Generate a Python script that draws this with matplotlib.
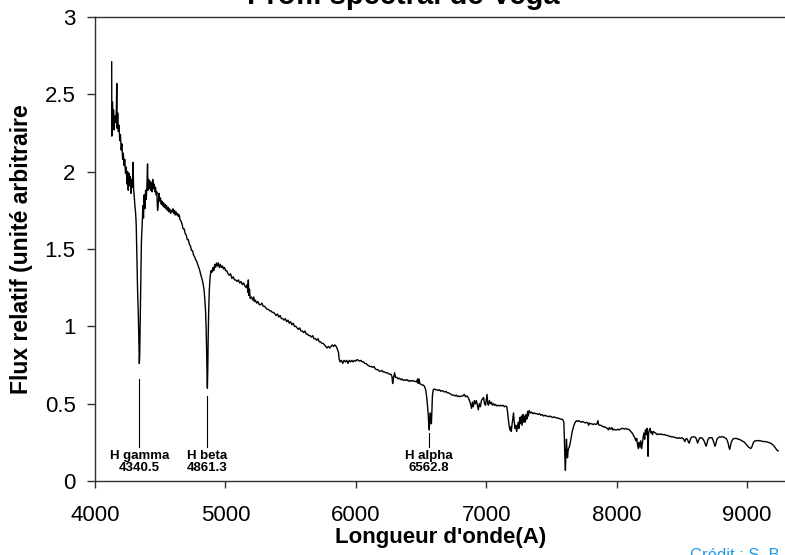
import matplotlib
matplotlib.use("Agg")
import matplotlib.pyplot as plt
from matplotlib.ticker import FuncFormatter

plt.rcParams['font.family'] = ['Liberation Sans', 'DejaVu Sans']

# ---- data ----
wavelength = [
    4128, 4129, 4134, 4138, 4142, 4147, 4152, 4158, 4164, 4167, 4170, 4174, 4179, 4184, 4190, 4195,
    4201, 4206, 4212, 4217, 4223, 4228, 4234, 4240, 4245, 4250, 4255, 4260, 4265, 4270, 4276, 4281,
    4286, 4292, 4296, 4301, 4306, 4311, 4316, 4321, 4327, 4333, 4337, 4340, 4343, 4347, 4351, 4356,
    4362, 4367, 4372, 4377, 4382, 4388, 4393, 4398, 4403, 4406, 4411, 4416, 4421, 4427, 4432, 4437,
    4443, 4448, 4453, 4459, 4464, 4470, 4474, 4480, 4486, 4491, 4496, 4502, 4508, 4513, 4519, 4525,
    4531, 4537, 4543, 4549, 4555, 4561, 4567, 4573, 4580, 4586, 4592, 4598, 4604, 4610, 4616, 4622,
    4628, 4634, 4640, 4646, 4652, 4660, 4668, 4676, 4684, 4692, 4700, 4708, 4716, 4724, 4732, 4740,
    4748, 4756, 4764, 4772, 4780, 4788, 4796, 4804, 4812, 4820, 4828, 4836, 4842, 4848, 4852, 4856,
    4859, 4862, 4865, 4868, 4872, 4877, 4883, 4890, 4897, 4904, 4911, 4918, 4925, 4932, 4940, 4947,
    4954, 4962, 4970, 4978, 4986, 4994, 5002, 5010, 5020,
    5030, 5040, 5050, 5060, 5070, 5080, 5090, 5100, 5110, 5120, 5130, 5140, 5150, 5160, 5168, 5172,
    5176, 5180, 5185, 5190, 5200, 5210, 5218, 5222, 5230, 5240, 5250, 5260, 5270, 5280, 5290, 5300,
    5310, 5320, 5330, 5340, 5350, 5360, 5370, 5380, 5390, 5400, 5410, 5420, 5430, 5440, 5450, 5460,
    5470, 5480, 5490, 5500, 5510, 5520, 5530, 5540, 5550, 5560, 5570, 5580, 5590, 5600, 5610, 5620,
    5630, 5640, 5650, 5660, 5670, 5680, 5690, 5700, 5710, 5720, 5730, 5740, 5750, 5760, 5770, 5780,
    5790, 5800, 5810, 5820, 5830, 5840, 5850, 5860, 5868, 5872, 5880, 5890, 5900, 5910, 5920, 5930,
    5940, 5950, 5960, 5970,
    5980, 5990, 6000, 6010, 6020, 6030, 6040, 6050, 6060, 6070, 6080, 6090, 6100, 6110, 6120, 6130,
    6140, 6150, 6160, 6170, 6180, 6190, 6200, 6210, 6220, 6230, 6240, 6250, 6260, 6270, 6278, 6283,
    6288, 6298, 6305, 6315, 6325, 6335, 6345, 6355, 6365, 6375, 6385, 6395, 6405, 6415, 6425, 6435,
    6445, 6455, 6465, 6475, 6480, 6485, 6492, 6500, 6510, 6520, 6528, 6536, 6543, 6550, 6556, 6560,
    6564, 6568, 6572, 6576, 6580, 6584, 6588, 6594, 6602, 6612, 6622, 6632, 6642, 6652, 6662, 6672,
    6682, 6692, 6702, 6712, 6722, 6732, 6742, 6752, 6762, 6772, 6782, 6792, 6802, 6812, 6822, 6832,
    6842, 6852, 6862, 6872, 6880, 6888, 6895, 6902, 6910, 6918, 6925, 6933, 6940, 6948, 6956, 6964,
    6972, 6980, 6988, 6995, 7002, 7007, 7012, 7018, 7025, 7032, 7040, 7048, 7056, 7064, 7072, 7080,
    7090, 7100,
    7110, 7120, 7130, 7140, 7150, 7158, 7164, 7170, 7176, 7182, 7188, 7193, 7198, 7204, 7210, 7216,
    7222, 7228, 7234, 7240, 7246, 7252, 7258, 7264, 7270, 7276, 7282, 7288, 7294, 7300, 7306, 7312,
    7318, 7324, 7330, 7340, 7350, 7360, 7370, 7380, 7390, 7400, 7410, 7420, 7430, 7440, 7450, 7460,
    7470, 7480, 7490, 7500, 7510, 7520, 7530, 7540, 7550, 7560, 7570, 7580, 7590, 7596, 7600, 7604,
    7608, 7612, 7616, 7620, 7624, 7628, 7632, 7638, 7645, 7652, 7658, 7665, 7672, 7680, 7688, 7696,
    7704, 7712, 7720, 7730, 7740, 7750, 7760, 7770, 7780, 7786, 7792, 7800, 7810, 7820, 7830, 7840,
    7850, 7858, 7862, 7870, 7880, 7890, 7900, 7910, 7920, 7930, 7938, 7945, 7950, 7958, 7965, 7972,
    7980, 7990, 8000, 8010, 8020, 8030, 8040, 8050, 8060, 8070, 8080, 8090, 8100, 8110, 8120, 8130,
    8140, 8148, 8155, 8162, 8168, 8174, 8180, 8186, 8192, 8198, 8204, 8210, 8216, 8222, 8228, 8234,
    8238, 8242, 8246, 8252, 8258, 8264, 8270, 8276, 8282, 8290, 8300, 8310, 8320, 8330, 8340, 8350,
    8360, 8370, 8380, 8390, 8400, 8410, 8420, 8430, 8440, 8450, 8460, 8470, 8480, 8490, 8500, 8510,
    8518, 8524, 8530, 8538, 8546, 8552, 8558, 8565, 8572, 8580, 8590, 8600, 8608, 8615, 8622, 8630,
    8640, 8650, 8660, 8668, 8676, 8682, 8688, 8694, 8702, 8712, 8722, 8732, 8740, 8748, 8755, 8762,
    8770, 8780, 8790, 8800, 8810, 8820, 8830, 8840, 8848, 8856, 8862, 8868, 8875, 8882, 8892, 8902,
    8912, 8922, 8932, 8942, 8952, 8962, 8972, 8982, 8992, 9002, 9012, 9020, 9030, 9038, 9046, 9054,
    9064, 9074, 9084, 9094, 9104, 9114, 9124, 9134, 9144, 9154, 9164, 9174, 9184, 9194, 9204, 9214,
    9222, 9230, 9240,
]

flux = [
    2.71, 2.23, 2.45, 2.30, 2.40, 2.27, 2.36, 2.32, 2.40, 2.57, 2.28, 2.38, 2.26, 2.30, 2.20, 2.24,
    2.14, 2.18, 2.08, 2.12, 2.04, 2.08, 1.99, 2.03, 1.92, 2.00, 1.88, 1.99, 1.91, 1.97, 1.86, 1.95,
    1.90, 2.06, 1.89, 1.84, 1.78, 1.74, 1.66, 1.45, 1.22, 1.05, 0.90, 0.76, 0.82, 1.05, 1.30, 1.55,
    1.66, 1.78, 1.70, 1.85, 1.76, 1.88, 1.82, 1.90, 2.05, 1.88, 1.95, 1.89, 1.94, 1.88, 1.93, 1.87,
    1.95, 1.89, 1.92, 1.87, 1.90, 1.85, 1.87, 1.75, 1.80, 1.86, 1.81, 1.83, 1.79, 1.81, 1.78, 1.80,
    1.77, 1.79, 1.76, 1.78, 1.75, 1.77, 1.74, 1.76, 1.73, 1.75, 1.74, 1.76, 1.73, 1.75, 1.72, 1.74,
    1.72, 1.73, 1.71, 1.72, 1.69, 1.68, 1.66, 1.63, 1.63, 1.60, 1.59, 1.56, 1.56, 1.53, 1.52, 1.49,
    1.49, 1.46, 1.45, 1.43, 1.42, 1.40, 1.38, 1.36, 1.33, 1.31, 1.28, 1.24, 1.18, 1.10, 1.00, 0.85,
    0.70, 0.60, 0.72, 0.92, 1.10, 1.24, 1.32, 1.36, 1.35, 1.38, 1.36, 1.40, 1.38, 1.41, 1.39, 1.41,
    1.38, 1.40, 1.38, 1.39, 1.37, 1.38, 1.36, 1.36, 1.34,
    1.33, 1.34, 1.31, 1.32, 1.30, 1.30, 1.29, 1.30, 1.28, 1.29, 1.27, 1.28, 1.26, 1.25, 1.27, 1.22,
    1.30, 1.20, 1.24, 1.18, 1.19, 1.17, 1.19, 1.16, 1.17, 1.15, 1.16, 1.14, 1.14, 1.15, 1.13, 1.13,
    1.12, 1.11, 1.11, 1.10, 1.10, 1.09, 1.09, 1.08, 1.07, 1.08, 1.06, 1.07, 1.05, 1.05, 1.04, 1.05,
    1.03, 1.04, 1.02, 1.03, 1.01, 1.02, 1.00, 1.00, 0.99, 0.98, 0.99, 0.97, 0.97, 0.96, 0.97, 0.95,
    0.95, 0.94, 0.94, 0.93, 0.94, 0.92, 0.92, 0.91, 0.92, 0.90, 0.90, 0.89, 0.89, 0.88, 0.87, 0.86,
    0.87, 0.86, 0.87, 0.88, 0.87, 0.88, 0.87, 0.85, 0.83, 0.79, 0.77, 0.78, 0.76, 0.78, 0.77, 0.78,
    0.76, 0.78, 0.77, 0.78,
    0.77, 0.78, 0.775, 0.785, 0.78, 0.775, 0.78, 0.77, 0.77, 0.76, 0.76, 0.75, 0.745, 0.74, 0.74, 0.735,
    0.74, 0.725, 0.72, 0.72, 0.71, 0.71, 0.715, 0.705, 0.705, 0.70, 0.70, 0.695, 0.69, 0.69, 0.675, 0.63,
    0.66, 0.70, 0.67, 0.67, 0.66, 0.665, 0.655, 0.66, 0.65, 0.655, 0.65, 0.655, 0.645, 0.65, 0.645, 0.65,
    0.645, 0.645, 0.64, 0.66, 0.63, 0.66, 0.63, 0.625, 0.62, 0.62, 0.61, 0.59, 0.55, 0.49, 0.43, 0.36,
    0.33, 0.41, 0.44, 0.40, 0.37, 0.45, 0.55, 0.59, 0.595, 0.59, 0.59, 0.585, 0.59, 0.58, 0.585, 0.58,
    0.575, 0.58, 0.57, 0.57, 0.565, 0.56, 0.555, 0.555, 0.55, 0.555, 0.545, 0.55, 0.545, 0.55, 0.55, 0.56,
    0.545, 0.55, 0.54, 0.52, 0.50, 0.47, 0.51, 0.48, 0.52, 0.50, 0.52, 0.49, 0.46, 0.50, 0.48, 0.52,
    0.53, 0.54, 0.50, 0.49, 0.53, 0.56, 0.50, 0.49, 0.52, 0.50, 0.51, 0.49, 0.50, 0.49, 0.495, 0.485,
    0.49, 0.485,
    0.49, 0.485, 0.49, 0.48, 0.485, 0.48, 0.45, 0.40, 0.36, 0.33, 0.35, 0.32, 0.36, 0.40, 0.44, 0.38,
    0.34, 0.36, 0.32, 0.35, 0.38, 0.34, 0.41, 0.37, 0.42, 0.36, 0.43, 0.38, 0.42, 0.38, 0.43, 0.40,
    0.45, 0.42, 0.455, 0.44, 0.445, 0.435, 0.44, 0.435, 0.435, 0.43, 0.435, 0.425, 0.43, 0.42, 0.425, 0.42,
    0.42, 0.415, 0.42, 0.415, 0.41, 0.415, 0.41, 0.41, 0.405, 0.405, 0.40, 0.40, 0.395, 0.38, 0.28, 0.15,
    0.07, 0.18, 0.27, 0.20, 0.15, 0.19, 0.21, 0.22, 0.245, 0.28, 0.31, 0.335, 0.355, 0.375, 0.385, 0.39,
    0.385, 0.39, 0.385, 0.38, 0.385, 0.38, 0.375, 0.38, 0.375, 0.36, 0.375, 0.37, 0.37, 0.365, 0.37, 0.365,
    0.37, 0.39, 0.365, 0.36, 0.36, 0.355, 0.35, 0.35, 0.345, 0.34, 0.33, 0.345, 0.34, 0.335, 0.345, 0.33,
    0.335, 0.33, 0.33, 0.335, 0.33, 0.335, 0.34, 0.34, 0.335, 0.34, 0.335, 0.335, 0.33, 0.32, 0.31, 0.295,
    0.28, 0.26, 0.275, 0.23, 0.21, 0.25, 0.22, 0.26, 0.21, 0.24, 0.28, 0.31, 0.27, 0.33, 0.30, 0.34,
    0.30, 0.16, 0.31, 0.33, 0.34, 0.31, 0.32, 0.30, 0.32, 0.315, 0.31, 0.30, 0.305, 0.30, 0.305, 0.30,
    0.30, 0.30, 0.295, 0.295, 0.29, 0.29, 0.285, 0.285, 0.285, 0.28, 0.28, 0.275, 0.28, 0.275, 0.28, 0.275,
    0.265, 0.255, 0.27, 0.275, 0.265, 0.25, 0.245, 0.265, 0.28, 0.285, 0.285, 0.285, 0.28, 0.265, 0.245, 0.265,
    0.28, 0.28, 0.275, 0.265, 0.25, 0.235, 0.225, 0.245, 0.27, 0.28, 0.28, 0.28, 0.265, 0.245, 0.225, 0.24,
    0.27, 0.28, 0.285, 0.285, 0.285, 0.285, 0.28, 0.275, 0.265, 0.245, 0.22, 0.205, 0.23, 0.255, 0.27, 0.275,
    0.275, 0.275, 0.27, 0.27, 0.265, 0.26, 0.255, 0.25, 0.24, 0.23, 0.22, 0.215, 0.21, 0.22, 0.24, 0.255,
    0.26, 0.26, 0.262, 0.26, 0.26, 0.258, 0.255, 0.255, 0.255, 0.252, 0.25, 0.247, 0.243, 0.237, 0.23, 0.22,
    0.21, 0.20, 0.195,
]

line_names = ["H gamma", "H beta", "H alpha"]
line_wavelengths = [4340.5, 4861.3, 6562.8]
line_labels = ["4340.5", "4861.3", "6562.8"]
marker_tops = [0.66, 0.55, 0.31]
marker_bottom = 0.22

x_ticks = [4000, 5000, 6000, 7000, 8000, 9000]
y_ticks = [0, 0.5, 1, 1.5, 2, 2.5, 3]

title = "Profil spectral de Vega"
x_label = "Longueur d'onde(A)"
y_label = "Flux relatif (unité arbitraire"
credit = "Crédit : S. B"

# ---- figure ----
fig = plt.figure(figsize=(7.85, 5.55), dpi=100)
ax = fig.add_axes([95 / 785, 74 / 555, 691 / 785, 464 / 555])

ax.plot(wavelength, flux, color="black", lw=1.0)

for wl, top, name, lab in zip(line_wavelengths, marker_tops, line_names, line_labels):
    ax.plot([wl, wl], [marker_bottom, top], color="black", lw=0.8)
    ax.text(wl, 0.20, name + "\n" + lab, ha="center", va="top", fontsize=9.5,
            fontweight="bold", linespacing=1.0)

ax.set_xlim(4000, 9300)
ax.set_ylim(0, 3)
ax.set_xticks(x_ticks)
ax.set_yticks(y_ticks)
ax.yaxis.set_major_formatter(FuncFormatter(lambda v, p: "%g" % v))

for side in ["top", "left", "bottom"]:
    ax.spines[side].set_color("#303030")
    ax.spines[side].set_linewidth(1.0)
ax.spines["right"].set_visible(False)

ax.tick_params(axis="y", direction="out", length=6, width=1, color="#303030",
               labelsize=16, pad=8)
ax.tick_params(axis="x", direction="out", length=5, width=1, color="#303030",
               labelsize=16, pad=12)

ax.set_xlabel(x_label, fontsize=16, fontweight="bold", labelpad=1)
ax.set_ylabel(y_label, fontsize=16.5, fontweight="bold", labelpad=8)

fig.text(247 / 785, 1 - 4 / 555, title, fontsize=21, fontweight="bold",
         ha="left", va="baseline")
fig.text(690 / 785, 1 - 548 / 555, credit, fontsize=12, color="#1E9BE8",
         ha="left", va="top")

fig.savefig("out.png", dpi=100)
